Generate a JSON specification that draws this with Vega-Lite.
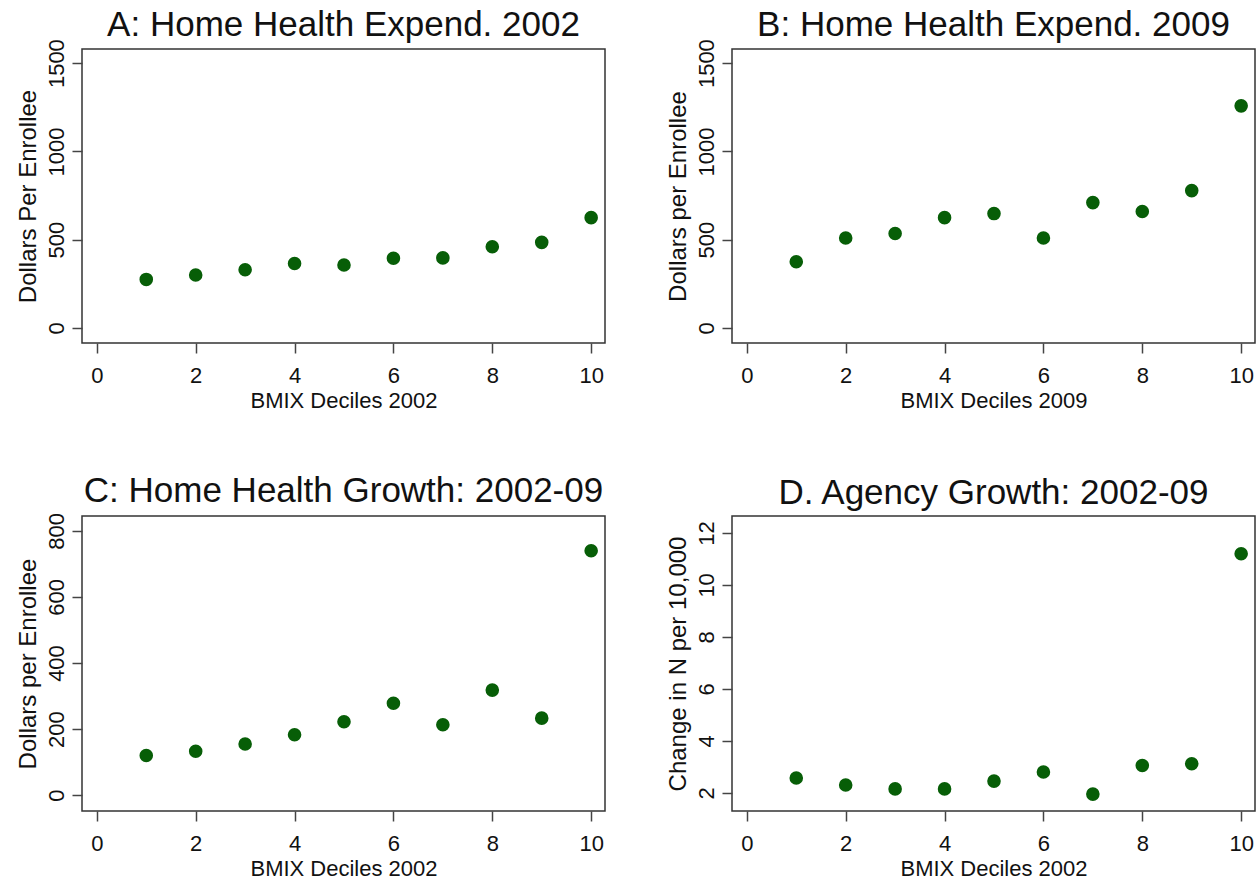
{
  "$schema": "https://vega.github.io/schema/vega-lite/v6.json",
  "background": "white",
  "padding": {"left": 15, "top": 6, "right": 4, "bottom": 4},
  "columns": 2,
  "bounds": "flush",
  "spacing": {"column": 127, "row": 173},
  "config": {
    "font": "Liberation Sans",
    "view": {"stroke": "#333333", "strokeWidth": 1.5},
    "axis": {
      "domain": false, "grid": false, "tickSize": 10, "tickWidth": 1.5, "tickColor": "#444444",
      "labelFont": "Liberation Sans", "labelFontSize": 22, "labelColor": "#111111",
      "titleFont": "Liberation Sans", "titleFontSize": 24, "titleFontWeight": "normal", "titleColor": "#111111"
    },
    "axisX": {"labelPadding": 12, "titlePadding": 4, "titleFontSize": 22},
    "axisY": {"labelAngle": -90, "labelAlign": "center", "labelBaseline": "bottom", "labelPadding": 4, "titlePadding": 5, "format": "d"},
    "title": {"font": "Liberation Sans", "fontSize": 35, "fontWeight": "normal", "color": "#111111", "frame": "group", "anchor": "middle", "baseline": "alphabetic"},
    "point": {"filled": true, "color": "#075e07", "size": 185, "opacity": 1}
  },
  "concat": [
    {
      "title": {"text": "A: Home Health Expend. 2002", "offset": -4},
      "width": 523, "height": 294,
      "data": {"values": [
        {"decile": 1, "value": 275}, {"decile": 2, "value": 300}, {"decile": 3, "value": 330},
        {"decile": 4, "value": 365}, {"decile": 5, "value": 357}, {"decile": 6, "value": 395},
        {"decile": 7, "value": 397}, {"decile": 8, "value": 460}, {"decile": 9, "value": 485},
        {"decile": 10, "value": 625}
      ]},
      "mark": {"type": "point"},
      "encoding": {
        "x": {"field": "decile", "type": "quantitative", "scale": {"domain": [-0.3, 10.28], "nice": false, "zero": false}, "axis": {"values": [0, 2, 4, 6, 8, 10], "title": "BMIX Deciles 2002"}},
        "y": {"field": "value", "type": "quantitative", "scale": {"domain": [-85, 1580], "nice": false, "zero": false}, "axis": {"values": [0, 500, 1000, 1500], "title": "Dollars Per Enrollee"}}
      }
    },
    {
      "title": {"text": "B: Home Health Expend. 2009", "offset": -4},
      "width": 523, "height": 294,
      "data": {"values": [
        {"decile": 1, "value": 375}, {"decile": 2, "value": 510}, {"decile": 3, "value": 535},
        {"decile": 4, "value": 625}, {"decile": 5, "value": 648}, {"decile": 6, "value": 510},
        {"decile": 7, "value": 710}, {"decile": 8, "value": 660}, {"decile": 9, "value": 778},
        {"decile": 10, "value": 1258}
      ]},
      "mark": {"type": "point"},
      "encoding": {
        "x": {"field": "decile", "type": "quantitative", "scale": {"domain": [-0.3, 10.28], "nice": false, "zero": false}, "axis": {"values": [0, 2, 4, 6, 8, 10], "title": "BMIX Deciles 2009"}},
        "y": {"field": "value", "type": "quantitative", "scale": {"domain": [-85, 1580], "nice": false, "zero": false}, "axis": {"values": [0, 500, 1000, 1500], "title": "Dollars per Enrollee"}}
      }
    },
    {
      "title": {"text": "C: Home Health Growth: 2002-09", "offset": 4},
      "width": 523, "height": 295,
      "data": {"values": [
        {"decile": 1, "value": 120}, {"decile": 2, "value": 133}, {"decile": 3, "value": 155},
        {"decile": 4, "value": 183}, {"decile": 5, "value": 222}, {"decile": 6, "value": 278},
        {"decile": 7, "value": 213}, {"decile": 8, "value": 318}, {"decile": 9, "value": 233},
        {"decile": 10, "value": 740}
      ]},
      "mark": {"type": "point"},
      "encoding": {
        "x": {"field": "decile", "type": "quantitative", "scale": {"domain": [-0.3, 10.28], "nice": false, "zero": false}, "axis": {"values": [0, 2, 4, 6, 8, 10], "title": "BMIX Deciles 2002"}},
        "y": {"field": "value", "type": "quantitative", "scale": {"domain": [-48, 845], "nice": false, "zero": false}, "axis": {"values": [0, 200, 400, 600, 800], "title": "Dollars per Enrollee"}}
      }
    },
    {
      "title": {"text": "D. Agency Growth: 2002-09", "offset": 5},
      "width": 523, "height": 295,
      "data": {"values": [
        {"decile": 1, "value": 2.57}, {"decile": 2, "value": 2.3}, {"decile": 3, "value": 2.15},
        {"decile": 4, "value": 2.15}, {"decile": 5, "value": 2.45}, {"decile": 6, "value": 2.8},
        {"decile": 7, "value": 1.95}, {"decile": 8, "value": 3.05}, {"decile": 9, "value": 3.12},
        {"decile": 10, "value": 11.2}
      ]},
      "mark": {"type": "point"},
      "encoding": {
        "x": {"field": "decile", "type": "quantitative", "scale": {"domain": [-0.3, 10.28], "nice": false, "zero": false}, "axis": {"values": [0, 2, 4, 6, 8, 10], "title": "BMIX Deciles 2002"}},
        "y": {"field": "value", "type": "quantitative", "scale": {"domain": [1.3, 12.65], "nice": false, "zero": false}, "axis": {"values": [2, 4, 6, 8, 10, 12], "title": "Change in N per 10,000"}}
      }
    }
  ]
}
